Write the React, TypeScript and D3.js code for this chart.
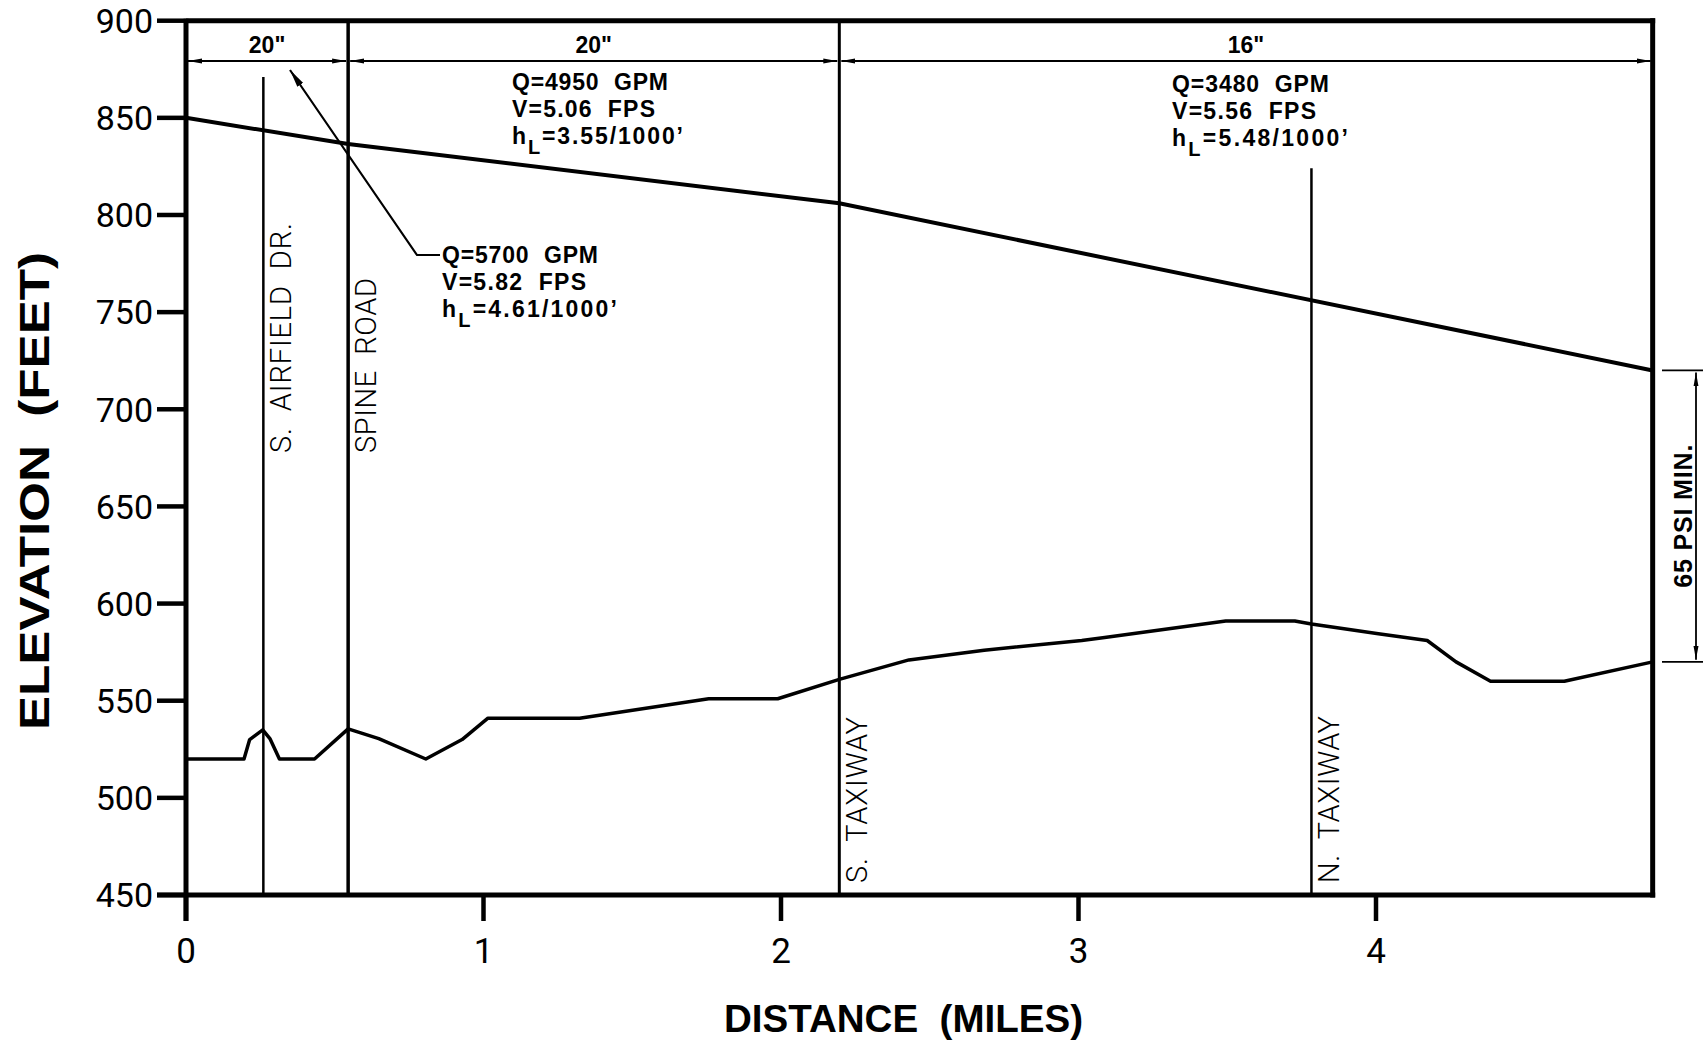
import * as d3 from 'd3';

// pipe profile: distance in miles, elevation in feet
const hglMiles = [0, 0.545, 2.196, 4.93];
const hglElev = [850, 836.5, 806, 720];

const groundMiles = [
  0, 0.195, 0.214, 0.258, 0.282, 0.314, 0.432, 0.545, 0.648, 0.806, 0.928, 1.015, 1.323, 1.757,
  1.989, 2.196, 2.43, 2.683, 3.011, 3.088, 3.495, 3.727, 3.783, 4.008, 4.172, 4.269, 4.385, 4.633,
  4.93,
];
const groundElev = [
  520, 520, 530, 535, 530.5, 520, 520, 535.5, 530.5, 520, 530, 541, 541, 551, 551, 561, 571, 576,
  581, 582.5, 591, 591, 589.5, 584.5, 581, 570, 560, 560, 570,
];

const roadNames = ['S.  AIRFIELD  DR.', 'SPINE  ROAD', 'S.  TAXIWAY', 'N.  TAXIWAY'];
const roadMiles = [0.26, 0.545, 2.196, 3.783];
const roadTopElev = [871, 900, 900, 824];

const pipeBreaks = [0, 0.545, 2.196, 4.93];
const pipeSizes = ['20"', '20"', '16"'];
const flowQ = ['Q=5700  GPM', 'Q=4950  GPM', 'Q=3480  GPM'];
const flowV = ['V=5.82  FPS', 'V=5.06  FPS', 'V=5.56  FPS'];
const flowH = ['4.61/1000\u2019', '3.55/1000\u2019', '5.48/1000\u2019'];

const xTicks = [0, 1, 2, 3, 4];
const yTicks = [450, 500, 550, 600, 650, 700, 750, 800, 850, 900];
const psiTop = 720;
const psiBottom = 570;

const W = 1703;
const H = 1045;

const labelFont = "'Liberation Sans', Arial, sans-serif";
const thinFont = "Roboto, 'DejaVu Sans', sans-serif";
const pre = { whiteSpace: 'pre' } as const;

export default function App() {
  const x = d3.scaleLinear().domain([0, 4.93]).range([186, 186 + 4.93 * 297.5]);
  const y = d3.scaleLinear().domain([450, 900]).range([895, 20.7]);

  const line = d3
    .line<[number, number]>()
    .x((d) => x(d[0]))
    .y((d) => y(d[1]));
  const hgl = line(hglMiles.map((m, i) => [m, hglElev[i]]));
  const ground = line(groundMiles.map((m, i) => [m, groundElev[i]]));

  const left = x(0);
  const right = x(4.93);
  const top = y(900);
  const bottom = y(450);
  const dimY = 61;

  // annotation block layout (x of block, baseline of first line, text lengths)
  const blocks = [
    { x: 442, y: 263, lq: 156, lv: 144, lh: 175 },
    { x: 512, y: 90, lq: 156, lv: 143, lh: 171 },
    { x: 1172, y: 92, lq: 157, lv: 144, lh: 176 },
  ];
  const roadLens = [230, 175, 166, 167];

  return (
    <svg
      width={W}
      height={H}
      viewBox={`0 0 ${W} ${H}`}
      style={{ position: 'absolute', left: 0, top: 0, background: '#fff' }}
    >
      <defs>
        <marker
          id="arr"
          viewBox="0 0 14 6"
          refX={14}
          refY={3}
          markerWidth={14}
          markerHeight={6}
          markerUnits="userSpaceOnUse"
          orient="auto-start-reverse"
        >
          <path d="M0,0.5 L14,3 L0,5.5 Z" fill="#000" />
        </marker>
        <marker
          id="lead"
          viewBox="0 0 18 8"
          refX={18}
          refY={4}
          markerWidth={18}
          markerHeight={8}
          markerUnits="userSpaceOnUse"
          orient="auto"
        >
          <path d="M0,0.5 L18,4 L0,7.5 Z" fill="#000" />
        </marker>
      </defs>

      {/* road / crossing lines */}
      {roadMiles.map((m, i) => (
        <line
          key={`r${i}`}
          x1={x(m)}
          x2={x(m)}
          y1={y(roadTopElev[i])}
          y2={bottom}
          stroke="#000"
          strokeWidth={i === 1 ? 3.5 : i === 2 ? 3 : 2.5}
        />
      ))}
      {roadNames.map((name, i) => (
        <text
          key={`rn${i}`}
          transform={`translate(${x(roadMiles[i]) + 28},${i < 2 ? 453 : 883}) rotate(-90)`}
          fontFamily={thinFont}
          fontWeight={300}
          fontSize={29}
          textLength={roadLens[i]}
          lengthAdjust="spacing"
          fill="#000"
          style={pre}
        >
          {name}
        </text>
      ))}

      {/* hydraulic grade line and ground profile */}
      <path d={hgl ?? ''} fill="none" stroke="#000" strokeWidth={4} />
      <path d={ground ?? ''} fill="none" stroke="#000" strokeWidth={3.5} strokeLinejoin="round" />

      {/* frame */}
      <line x1={left} x2={left} y1={top - 2} y2={921} stroke="#000" strokeWidth={5} />
      <line x1={left} x2={right + 2.5} y1={top} y2={top} stroke="#000" strokeWidth={5} />
      <line x1={right} x2={right} y1={top - 2.5} y2={bottom + 2.5} stroke="#000" strokeWidth={5} />
      <line x1={157} x2={right + 2.5} y1={bottom} y2={bottom} stroke="#000" strokeWidth={5} />

      {/* y axis */}
      {yTicks.map((t) => (
        <g key={`y${t}`}>
          <line x1={157} x2={left} y1={y(t)} y2={y(t)} stroke="#000" strokeWidth={4.5} />
          <text
            x={153}
            y={y(t)}
            dy="0.36em"
            textAnchor="end"
            fontFamily={thinFont}
            fontSize={34}
            fill="#000"
          >
            {t}
          </text>
        </g>
      ))}

      {/* x axis */}
      {xTicks.map((t) => (
        <g key={`x${t}`}>
          <line x1={x(t)} x2={x(t)} y1={bottom} y2={921} stroke="#000" strokeWidth={4.5} />
          <text
            x={x(t)}
            y={963}
            textAnchor="middle"
            fontFamily={thinFont}
            fontSize={35}
            fill="#000"
          >
            {t}
          </text>
        </g>
      ))}

      {/* axis titles */}
      <text
        transform={`translate(49,491) rotate(-90)`}
        textAnchor="middle"
        fontFamily={labelFont}
        fontWeight={700}
        fontSize={42}
        textLength={478}
        lengthAdjust="spacingAndGlyphs"
        fill="#000"
        style={pre}
      >
        {'ELEVATION  (FEET)'}
      </text>
      <text
        x={903.5}
        y={1032}
        textAnchor="middle"
        fontFamily={labelFont}
        fontWeight={700}
        fontSize={38}
        textLength={359}
        lengthAdjust="spacingAndGlyphs"
        fill="#000"
        style={pre}
      >
        {'DISTANCE  (MILES)'}
      </text>

      {/* pipe size dimension strip */}
      {pipeSizes.map((s, i) => {
        const a = x(pipeBreaks[i]);
        const b = x(pipeBreaks[i + 1]);
        return (
          <g key={`p${i}`}>
            <line
              x1={a + 2}
              x2={b - 2}
              y1={dimY}
              y2={dimY}
              stroke="#000"
              strokeWidth={1.8}
              markerStart="url(#arr)"
              markerEnd="url(#arr)"
            />
            <text
              x={(a + b) / 2}
              y={53}
              textAnchor="middle"
              fontFamily={labelFont}
              fontWeight={700}
              fontSize={23}
              fill="#000"
            >
              {s}
            </text>
          </g>
        );
      })}

      {/* flow annotations */}
      {blocks.map((bl, i) => (
        <g key={`f${i}`} fontFamily={labelFont} fontWeight={700} fontSize={23} fill="#000">
          <text x={bl.x} y={bl.y} textLength={bl.lq} lengthAdjust="spacing" style={pre}>
            {flowQ[i]}
          </text>
          <text x={bl.x} y={bl.y + 27} textLength={bl.lv} lengthAdjust="spacing" style={pre}>
            {flowV[i]}
          </text>
          <text x={bl.x} y={bl.y + 54} textLength={bl.lh} lengthAdjust="spacing">
            <tspan>h</tspan>
            <tspan dy={10} fontSize={20}>
              L
            </tspan>
            <tspan dy={-10}>={flowH[i]}</tspan>
          </text>
        </g>
      ))}

      {/* leader for first segment */}
      <polyline
        points="440,255 417,255 290,70"
        fill="none"
        stroke="#000"
        strokeWidth={2.2}
        markerEnd="url(#lead)"
      />

      {/* 65 psi minimum dimension */}
      <line x1={1662} x2={W} y1={y(psiTop)} y2={y(psiTop)} stroke="#000" strokeWidth={1.8} />
      <line x1={1662} x2={W} y1={y(psiBottom)} y2={y(psiBottom)} stroke="#000" strokeWidth={1.8} />
      <line
        x1={1696}
        x2={1696}
        y1={y(psiTop) + 2}
        y2={y(psiBottom) - 2}
        stroke="#000"
        strokeWidth={1.8}
        markerStart="url(#arr)"
        markerEnd="url(#arr)"
      />
      <text
        transform={`translate(1692,${(y(psiTop) + y(psiBottom)) / 2}) rotate(-90)`}
        textAnchor="middle"
        fontFamily={labelFont}
        fontWeight={700}
        fontSize={25}
        textLength={143}
        lengthAdjust="spacing"
        fill="#000"
      >
        65 PSI MIN.
      </text>
    </svg>
  );
}
